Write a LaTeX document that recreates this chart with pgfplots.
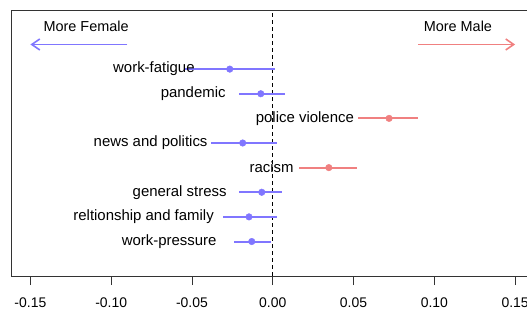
\documentclass[border=0pt]{standalone}
\usepackage{pgfplots}
\pgfplotsset{compat=1.18}
\usepackage{pgfplotstable}
\usepackage{fontspec}
\setmainfont{Liberation Sans}
\usetikzlibrary{arrows.meta}
\definecolor{fem}{RGB}{128,118,255}
\definecolor{mal}{RGB}{240,128,128}

\pgfplotstableread{
y est lo hi label
8 -0.0266 -0.0545 0.0012 work-fatigue
7 -0.0074 -0.0210 0.0074 pandemic
5 -0.0186 -0.0384 0.0025 {news and politics}
3 -0.0068 -0.0210 0.0056 {general stress}
2 -0.0147 -0.0310 0.0025 {reltionship and family}
1 -0.0130 -0.0240 -0.0012 work-pressure
}\femtab
\pgfplotstableread{
y est lo hi label
6 0.0720 0.0530 0.0900 {police violence}
4 0.0347 0.0160 0.0520 racism
}\maltab

\begin{document}
\begin{tikzpicture}
\begin{axis}[
  at={(11bp,35bp)}, anchor=south west,
  scale only axis, width=523.5bp, height=266bp,
  xmin=-0.162, xmax=0.162, ymin=-0.4, ymax=10.4,
  axis line style={draw=black!80, line width=0.9bp},
  xtick={-0.15,-0.10,-0.05,0,0.05,0.10,0.15},
  xticklabels={-0.15,-0.10,-0.05,0.00,0.05,0.10,0.15},
  ytick=\empty,
  xtick pos=bottom, tick align=outside, major tick length=9bp,
  tick style={draw=black!80, line width=0.9bp},
  ticklabel style={font=\fontsize{14}{16}\selectfont},
  xticklabel style={yshift=-9bp},
  clip=false,
]
\addplot[black, dash pattern=on 4bp off 3bp, line width=0.8bp] coordinates {(0,-0.4) (0,10.4)};

\addplot[fem, only marks, mark=*, mark size=3.3bp, mark options={fill=fem, draw=fem},
  error bars/.cd, x dir=both, x explicit, error mark=none,
  error bar style={line width=2bp, fem}]
  table[x=est, y=y, x error plus expr=\thisrow{hi}-\thisrow{est}, x error minus expr=\thisrow{est}-\thisrow{lo}] {\femtab};
\addplot[mal, only marks, mark=*, mark size=3.3bp, mark options={fill=mal, draw=mal},
  error bars/.cd, x dir=both, x explicit, error mark=none,
  error bar style={line width=2bp, mal}]
  table[x=est, y=y, x error plus expr=\thisrow{hi}-\thisrow{est}, x error minus expr=\thisrow{est}-\thisrow{lo}] {\maltab};

\addplot[only marks, mark=none, nodes near coords, point meta=explicit symbolic,
  nodes near coords style={anchor=east, xshift=-35bp, inner sep=0pt, text=black, font=\fontsize{15}{17}\selectfont}]
  table[x=est, y=y, meta=label] {\femtab};
\addplot[only marks, mark=none, nodes near coords, point meta=explicit symbolic,
  nodes near coords style={anchor=east, xshift=-35bp, inner sep=0pt, text=black, font=\fontsize{15}{17}\selectfont}]
  table[x=est, y=y, meta=label] {\maltab};

\addplot[fem, line width=1.6bp, -{Straight Barb[length=8bp, width=11bp]}] coordinates {(-0.09,9) (-0.15,9)};
\addplot[mal, line width=1.6bp, -{Straight Barb[length=8bp, width=11bp]}] coordinates {(0.09,9) (0.15,9)};

\node[font=\fontsize{14.5}{16}\selectfont, inner sep=0pt] at (axis cs:-0.1155,9.72) {More Female};
\node[font=\fontsize{14.5}{16}\selectfont, inner sep=0pt] at (axis cs:0.1146,9.72) {More Male};
\end{axis}
\pgfresetboundingbox
\useasboundingbox (0,0) rectangle (527bp,311bp);
\end{tikzpicture}
\end{document}
